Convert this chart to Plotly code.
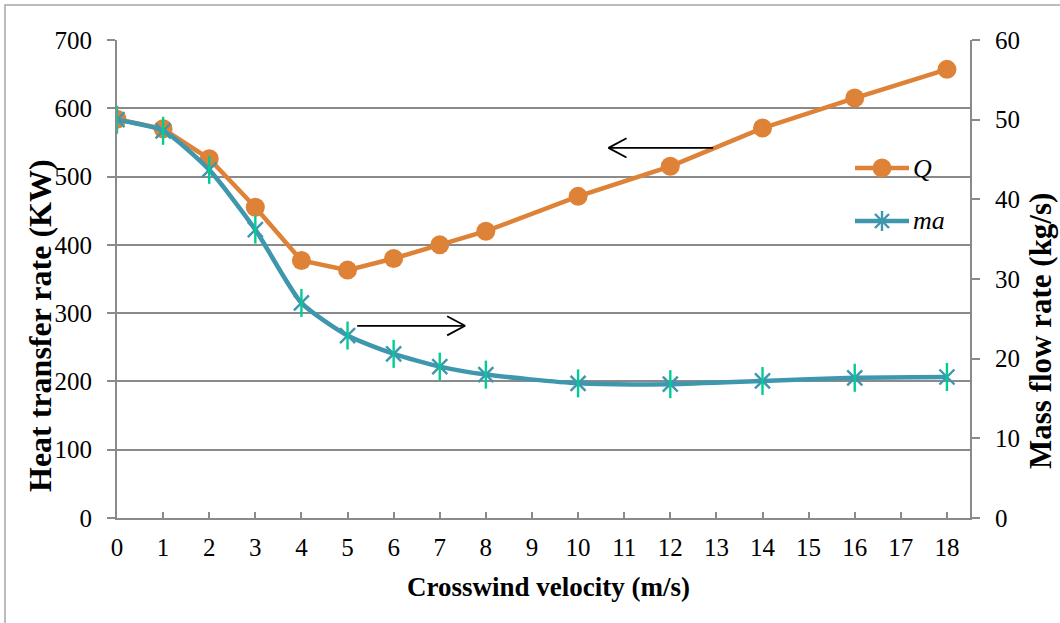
import plotly.graph_objects as go

# Crosswind velocity (m/s)
velocity = [0, 1, 2, 3, 4, 5, 6, 7, 8, 10, 12, 14, 16, 18]
# Heat transfer rate Q (KW)
heat_q = [584, 570, 526, 455, 377, 363, 380, 400, 420, 471, 515, 571, 615, 657]
# Mass flow rate ma (kg/s)
mass_ma = [50.0, 48.6, 43.7, 36.2, 27.0, 22.9, 20.6, 19.0, 18.0, 16.9, 16.8, 17.2, 17.6, 17.7]

x_ticks = list(range(0, 19))
left_ticks = list(range(0, 701, 100))
right_ticks = list(range(0, 61, 10))

ORANGE = "#DE8238"
TEAL = "#3F97AE"
GRID = "#8A8A8A"
FONT = "Liberation Serif, Times New Roman, serif"

W, H = 1060, 623
L, R, T, B = 117, 90, 40, 105
PW, PH = W - L - R, H - T - B


def px(x):
    return (x - L) / PW


def py(y):
    return (H - B - y) / PH


fig = go.Figure()

fig.add_trace(go.Scatter(
    x=velocity, y=heat_q, mode="lines+markers", name="Q",
    line=dict(color=ORANGE, width=4.5),
    marker=dict(symbol="circle", size=19, color=ORANGE),
    showlegend=False, yaxis="y",
))
fig.add_trace(go.Scatter(
    x=velocity, y=mass_ma, mode="lines+markers", name="ma",
    line=dict(color=TEAL, width=4.5, shape="spline", smoothing=0.6),
    marker=dict(symbol="x-thin-open", size=15, line=dict(color=TEAL, width=2.4)),
    showlegend=False, yaxis="y2",
))
# vertical stroke of the star markers
fig.add_trace(go.Scatter(
    x=velocity, y=mass_ma, mode="markers", name="ma",
    marker=dict(symbol="line-ns-open", size=20, line=dict(color=TEAL, width=2.4)),
    showlegend=False, yaxis="y2", hoverinfo="skip",
))

axis_font = dict(family=FONT, size=25, color="black")

fig.update_layout(
    width=W, height=H,
    margin=dict(l=L, r=R, t=T, b=B),
    paper_bgcolor="white", plot_bgcolor="white",
    xaxis=dict(
        range=[0, 18.5], tickvals=x_ticks, ticktext=[str(v) for v in x_ticks],
        ticks="inside", ticklen=6, tickcolor=GRID, tickwidth=1.5,
        showline=True, linecolor=GRID, linewidth=2, showgrid=False,
        zeroline=False, tickfont=axis_font, ticklabelstandoff=6,
    ),
    yaxis=dict(
        range=[0, 700], tickvals=left_ticks,
        ticks="outside", ticklen=8, tickcolor=GRID, tickwidth=1.5,
        showline=True, linecolor=GRID, linewidth=2,
        showgrid=True, gridcolor=GRID, gridwidth=1.5,
        zeroline=False, tickfont=axis_font, ticklabelstandoff=10,
    ),
    yaxis2=dict(
        range=[0, 60], tickvals=right_ticks, overlaying="y", side="right",
        ticks="outside", ticklen=8, tickcolor=GRID, tickwidth=1.5,
        showline=True, linecolor=GRID, linewidth=2, showgrid=False,
        zeroline=False, tickfont=axis_font, ticklabelstandoff=10,
    ),
    showlegend=False,
)

annotations = [
    dict(text="<b>Crosswind velocity (m/s)</b>", x=px(548), y=py(587),
         xref="paper", yref="paper", showarrow=False,
         font=dict(family=FONT, size=27, color="black"),
         xanchor="center", yanchor="middle"),
    dict(text="<b>Heat transfer rate (KW)</b>", x=px(40), y=py(326),
         xref="paper", yref="paper", showarrow=False,
         font=dict(family=FONT, size=32, color="black"),
         textangle=-90, xanchor="center", yanchor="middle"),
    dict(text="<b>Mass flow rate (kg/s)</b>", x=px(1040), y=py(331),
         xref="paper", yref="paper", showarrow=False,
         font=dict(family=FONT, size=31, color="black"),
         textangle=-90, xanchor="center", yanchor="middle", borderpad=0),
    dict(text="<i>Q</i>", x=px(911), y=py(168), xref="paper", yref="paper",
         showarrow=False, font=dict(family=FONT, size=26, color="black"),
         xanchor="left", yanchor="middle"),
    dict(text="<i>ma</i>", x=px(911), y=py(221), xref="paper", yref="paper",
         showarrow=False, font=dict(family=FONT, size=26, color="black"),
         xanchor="left", yanchor="middle"),
]
fig.update_layout(annotations=annotations)

shapes = []
# outer chart border
shapes.append(dict(type="rect", xref="paper", yref="paper",
                   x0=px(5), x1=px(1070), y0=py(5), y1=py(640),
                   line=dict(color="#A6A6A6", width=1.5), layer="below"))

# legend keys
shapes.append(dict(type="line", xref="paper", yref="paper",
                   x0=px(855), x1=px(909), y0=py(168), y1=py(168),
                   line=dict(color=ORANGE, width=4.5)))
shapes.append(dict(type="circle", xref="paper", yref="paper",
                   x0=px(872.5), x1=px(891.5), y0=py(158.5), y1=py(177.5),
                   fillcolor=ORANGE, line=dict(color=ORANGE, width=0)))
shapes.append(dict(type="line", xref="paper", yref="paper",
                   x0=px(855), x1=px(909), y0=py(221), y1=py(221),
                   line=dict(color=TEAL, width=4.5)))
for dx, dy in [(-7, -7), (-7, 7)]:
    shapes.append(dict(type="line", xref="paper", yref="paper",
                       x0=px(882 + dx), x1=px(882 - dx),
                       y0=py(221 + dy), y1=py(221 - dy),
                       line=dict(color=TEAL, width=2.4)))
shapes.append(dict(type="line", xref="paper", yref="paper",
                   x0=px(882), x1=px(882), y0=py(211), y1=py(231),
                   line=dict(color=TEAL, width=2.4)))

# direction arrows (x in velocity units, y in left-axis units)
def arrow(x_tail, x_tip, y, head_dx, head_dy):
    out = [dict(type="line", xref="x", yref="y", x0=x_tail, x1=x_tip,
                y0=y, y1=y, line=dict(color="black", width=1.8))]
    for s in (1, -1):
        out.append(dict(type="line", xref="x", yref="y", x0=x_tip,
                        x1=x_tip + head_dx, y0=y, y1=y + s * head_dy,
                        line=dict(color="black", width=1.8)))
    return out


shapes += arrow(12.93, 10.66, 542, 0.39, 14)
shapes += arrow(5.21, 7.55, 281.5, -0.39, 14)

fig.update_layout(shapes=shapes)

fig.write_html("out.html")
